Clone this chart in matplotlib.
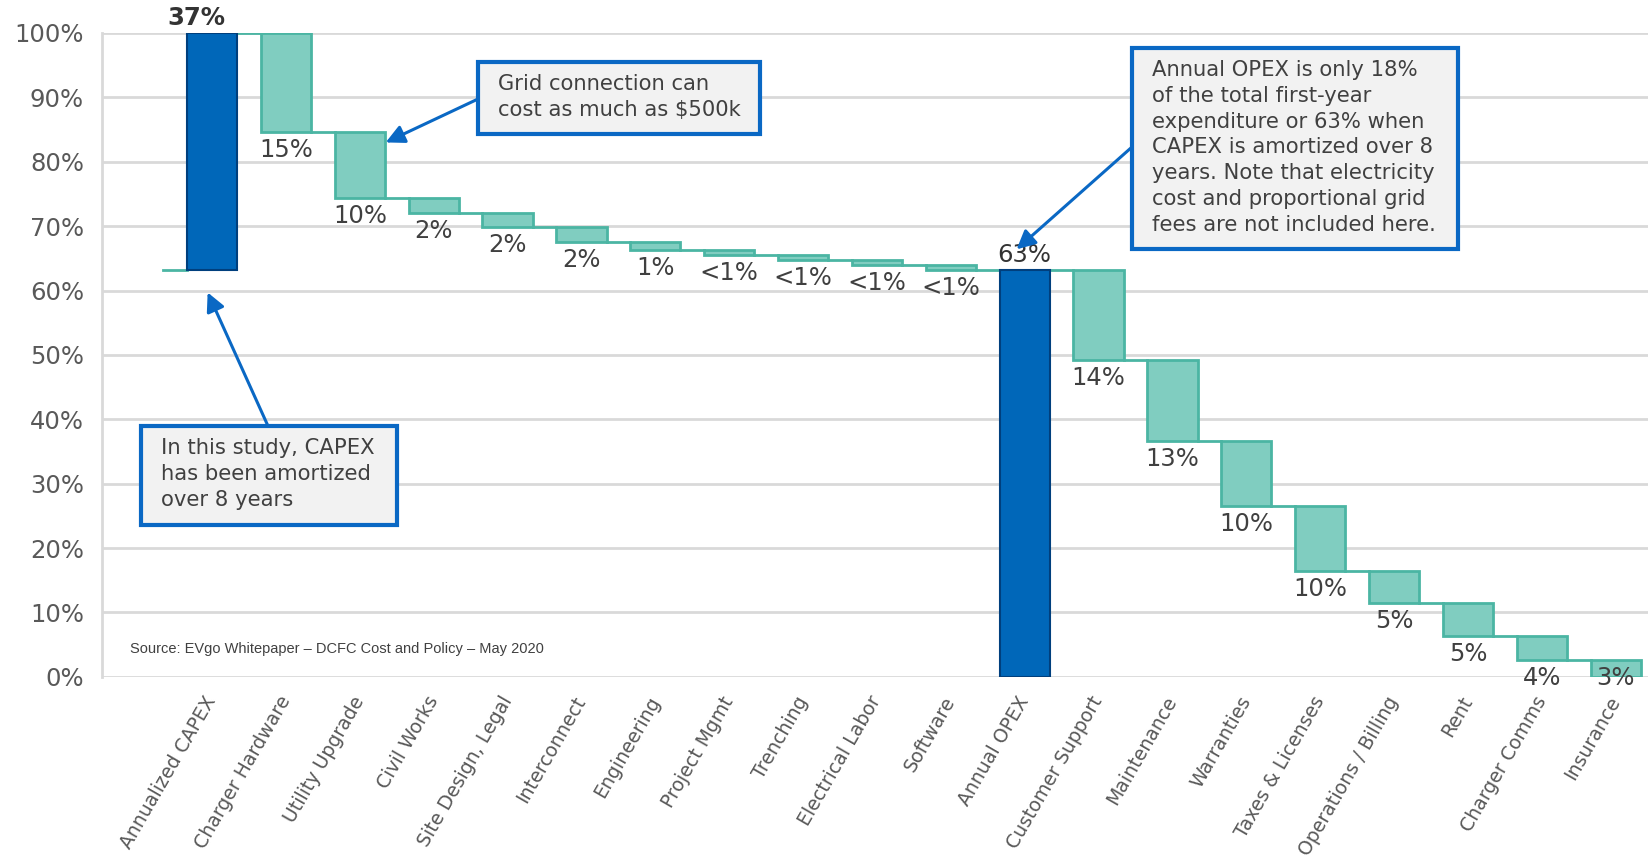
import matplotlib.pyplot as plt
import matplotlib.transforms as mtransforms
from matplotlib.patches import Rectangle

# waterfall data (share of first-year cost, %)
categories = [
    "Annualized CAPEX", "Charger Hardware", "Utility Upgrade", "Civil Works",
    "Site Design, Legal", "Interconnect", "Engineering", "Project Mgmt",
    "Trenching", "Electrical Labor", "Software", "Annual OPEX",
    "Customer Support", "Maintenance", "Warranties", "Taxes & Licenses",
    "Operations / Billing", "Rent", "Charger Comms", "Insurance",
]
capex_items = [15.3, 10.3, 2.4, 2.2, 2.2, 1.3, 0.8, 0.7, 0.8, 0.8]
opex_items = [14.0, 12.6, 10.1, 10.1, 5.0, 5.0, 3.8, 2.6]
yticks = [0, 10, 20, 30, 40, 50, 60, 70, 80, 90, 100]

BLUE = "#0067B9"
BLUE_EDGE = "#003F7D"
TEAL = "#80CDC0"
TEAL_EDGE = "#4BB5A3"
ARROW = "#0A68C4"
TXT = "#404040"

W, H = 1649, 855
fig = plt.figure(figsize=(W / 100, H / 100), dpi=100)
ax = fig.add_axes([102 / W, 1 - 676.8 / H, 1 - 102 / W, (676.8 - 33) / H])

# build the (bottom, top, kind) list for every bar
capex_total = sum(capex_items)
opex_total = sum(opex_items)
bars = [(100 - capex_total, 100, "total")]
level = 100
for v in capex_items:
    bars.append((level - v, level, "step"))
    level -= v
bars.append((0, opex_total, "total"))
level = opex_total
for v in opex_items:
    bars.append((level - v, level, "step"))
    level -= v

bw = 0.68
for i, (lo, hi, kind) in enumerate(bars):
    if kind == "total":
        ax.bar(i, hi - lo, bottom=lo, width=bw, color=BLUE, edgecolor=BLUE_EDGE,
               linewidth=1.5, zorder=3)
    else:
        ax.bar(i, hi - lo, bottom=lo, width=bw, color=TEAL, edgecolor=TEAL_EDGE,
               linewidth=2, zorder=3)

# connector lines between consecutive bars
ax.plot([-0.66, -bw / 2], [bars[0][0]] * 2, color=TEAL_EDGE, lw=2, zorder=2)
for i in range(len(bars) - 1):
    lo, hi, kind = bars[i]
    y = bars[i + 1][1] if bars[i + 1][2] == "step" else lo
    if kind == "total" and i == 0:
        y = hi
    ax.plot([i + bw / 2, i + 1 - bw / 2], [y, y], color=TEAL_EDGE, lw=2, zorder=2)


def pct_label(v):
    return "<1%" if v < 1 else "{:.0f}%".format(v)


below = mtransforms.offset_copy(ax.transData, fig=fig, x=0, y=-6, units="dots")
for i, (lo, hi, kind) in enumerate(bars):
    v = hi - lo
    if kind == "total":
        dx = -16 if i == 0 else 0
        ax.text(i, hi, pct_label(v), ha="center", va="bottom", fontsize=17.5,
                color="#333333", fontweight="bold" if i == 0 else "normal",
                transform=mtransforms.offset_copy(ax.transData, fig=fig, x=dx, y=3,
                                                  units="dots"))
    else:
        y = lo if lo > 0.5 else hi
        ax.text(i, y, pct_label(v), ha="center", va="top", fontsize=17.5,
                color=TXT, transform=below, zorder=4)

ax.set_xlim(-1.49, 19.45)
ax.set_ylim(0, 100)
ax.set_yticks(yticks)
ax.set_yticklabels(["{}%".format(t) for t in yticks], fontsize=17.5, color="#595959")
ax.set_xticks(range(len(categories)))
ax.set_xticklabels(categories, rotation=60, ha="right", va="center",
                   rotation_mode="anchor", fontsize=13.6, color="#595959")
shift = mtransforms.ScaledTranslation(6 / 100, 0, fig.dpi_scale_trans)
for lab in ax.get_xticklabels():
    lab.set_transform(lab.get_transform() + shift)
ax.tick_params(axis="both", length=0)
ax.tick_params(axis="y", pad=13)
ax.tick_params(axis="x", pad=15)
ax.grid(axis="y", color="#D9D9D9", lw=2, zorder=0)
for s in ["top", "right", "bottom"]:
    ax.spines[s].set_visible(False)
ax.spines["left"].set_color("#D9D9D9")
ax.spines["left"].set_linewidth(2)

ax.text(130 / W, 1 - 649 / H, "Source: EVgo Whitepaper \u2013 DCFC Cost and Policy \u2013 May 2020",
        transform=fig.transFigure, fontsize=10.5, family="Liberation Sans",
        color="#404040", va="center")


def callout(x0, y0, x1, y1, text):
    fig.patches.append(Rectangle((x0 / W, 1 - y1 / H), (x1 - x0) / W, (y1 - y0) / H,
                                 transform=fig.transFigure, facecolor="#F2F2F2",
                                 edgecolor=ARROW, linewidth=3, zorder=5))
    fig.text((x0 + 20) / W, 1 - (y0 + 12) / H, text, fontsize=15.2, color=TXT,
             va="top", ha="left", linespacing=1.36, zorder=6)


def arrow(tip, tail):
    ax.annotate("", xy=tip, xycoords="data", xytext=(tail[0], H - tail[1]),
                textcoords="figure pixels",
                arrowprops=dict(arrowstyle="-|>", color=ARROW, lw=2.2,
                                mutation_scale=28, shrinkA=0, shrinkB=0),
                annotation_clip=False, zorder=5)


callout(478, 62, 760, 134, "Grid connection can\ncost as much as $500k")
callout(141, 426, 397, 525, "In this study, CAPEX\nhas been amortized\nover 8 years")
callout(1132, 48, 1458, 249,
        "Annual OPEX is only 18%\nof the total first-year\nexpenditure or 63% when\n"
        "CAPEX is amortized over 8\nyears. Note that electricity\n"
        "cost and proportional grid\nfees are not included here.")

arrow((2.35, 83.0), (478, 99))
arrow((-0.06, 59.7), (268, 426))
arrow((10.89, 66.4), (1132, 147))

fig.savefig("out.png", dpi=100)
